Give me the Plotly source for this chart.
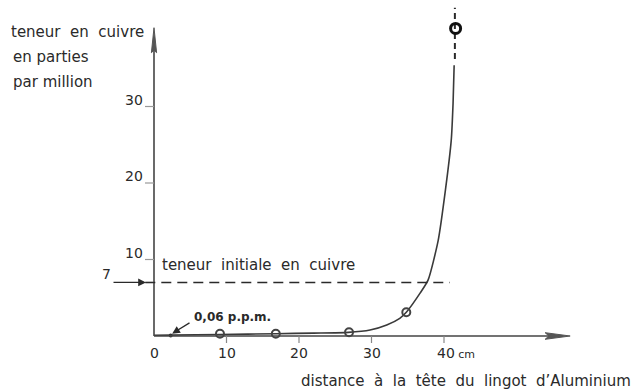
import plotly.graph_objects as go

# ---- data ----
curve_x = [0, 2.3, 9.1, 16.8, 22, 26.8, 29.8, 32.1, 33.9, 34.8, 36.7, 37.8, 39.2, 40.2, 41.0, 41.25, 41.4]
curve_y = [0.1, 0.12, 0.2, 0.3, 0.38, 0.48, 0.78, 1.44, 2.31, 3.1, 5.6, 7.3, 12.5, 19.1, 25.6, 30.4, 35.4]
meas_x = [9.1, 16.8, 26.9, 34.8]
meas_y = [0.3, 0.3, 0.5, 3.1]
top_x = [41.6]
top_y = [40.2]
dot_x = [2.3]
dot_y = [0.06]
initial_level = 7
x_ticks = [10, 20, 30, 40]
x_tick_labels = ["0", "10", "20", "30", "40cm"]
y_ticks = [10, 20, 30]
y_tick_labels = ["10", "20", "30"]
x_axis_end = 57.4
y_axis_end = 40.3
hline_end = 40.8
vdash_x = 41.5
vdash_range = [36.2, 42.9]

# ---- pixel mapping (layout only) ----
W, H = 636, 391
X0PX, SX = 154, 7.25
Y0PX, SY = 336, 7.65
def X(px): return (px - X0PX) / SX
def Y(py): return (Y0PX - py) / SY

INK = "#2a2a2a"
FONT = "DejaVu Sans"
SP = "&nbsp; "  # wide word spacing

def wide(s):
    return s.replace(" ", SP)

fig = go.Figure()

# curve
fig.add_trace(go.Scatter(x=curve_x, y=curve_y, mode="lines",
                         line=dict(color="#3a3a3a", width=1.6, shape="spline", smoothing=0.6),
                         hoverinfo="skip"))
# vertical dashed extension
fig.add_trace(go.Scatter(x=[vdash_x, vdash_x], y=vdash_range, mode="lines",
                         line=dict(color=INK, width=2, dash="6px,4px"), hoverinfo="skip"))
# measured points
fig.add_trace(go.Scatter(x=meas_x, y=meas_y, mode="markers",
                         marker=dict(symbol="circle-open", size=8, color="#444", line=dict(width=2))))
fig.add_trace(go.Scatter(x=top_x, y=top_y, mode="markers",
                         marker=dict(symbol="circle-open", size=10, color="#111", line=dict(width=3))))
fig.add_trace(go.Scatter(x=dot_x, y=dot_y, mode="markers",
                         marker=dict(symbol="circle", size=4, color="#333")))

shapes = []
# axes lines
shapes.append(dict(type="line", x0=0, y0=0, x1=x_axis_end - 2, y1=0, xref="x", yref="y",
                   line=dict(color="#444", width=1.6)))
shapes.append(dict(type="line", x0=0, y0=0, x1=0, y1=y_axis_end - 2, xref="x", yref="y",
                   line=dict(color="#444", width=1.6)))
# arrowheads
ax_len, ax_hw = 25 / SX, 3.3 / SY
shapes.append(dict(type="path", xref="x", yref="y",
                   path=f"M{x_axis_end},0 L{x_axis_end-ax_len},{ax_hw} L{x_axis_end-ax_len*0.85},0 L{x_axis_end-ax_len},{-ax_hw} Z",
                   fillcolor="#555", line=dict(color="#555", width=1)))
ay_len, ay_hw = 25 / SY, 2.6 / SX
shapes.append(dict(type="path", xref="x", yref="y",
                   path=f"M0,{y_axis_end} L{ay_hw},{y_axis_end-ay_len} L0,{y_axis_end-ay_len*0.9} L{-ay_hw},{y_axis_end-ay_len} Z",
                   fillcolor="#555", line=dict(color="#555", width=1)))
# ticks
for t in x_ticks:
    shapes.append(dict(type="line", xref="x", yref="y", x0=t, x1=t, y0=0, y1=-7 / SY,
                       line=dict(color="#888", width=1.2)))
for t in y_ticks + [initial_level]:
    shapes.append(dict(type="line", xref="x", yref="y", x0=-9 / SX, x1=0, y0=t, y1=t,
                       line=dict(color="#999", width=1.2)))
# initial level dashed line
shapes.append(dict(type="line", xref="x", yref="y", x0=-1.2, x1=hline_end, y0=initial_level, y1=initial_level,
                   line=dict(color=INK, width=1.5, dash="10px,6px")))

ann = []
def txt(x, y, s, size=15, xanchor="left", yanchor="middle", bold=False, color=INK, yshift=0):
    ann.append(dict(x=x, y=y, xref="x", yref="y", text=f"<b>{s}</b>" if bold else s,
                    showarrow=False, xanchor=xanchor, yanchor=yanchor, yshift=yshift,
                    font=dict(family=FONT, size=size, color=color)))

# y-axis title
txt(X(9), Y(32), wide("teneur en cuivre"))
txt(X(11), Y(57), "en parties")
txt(X(11), Y(82), "par million")
# y tick labels (raised above tick)
for t, lab in zip(y_ticks, y_tick_labels):
    txt(-9 / SX, t, lab, 14, xanchor="right", yanchor="bottom", yshift=-3)
# x tick labels
for t, lab in zip([0] + x_ticks, x_tick_labels):
    if lab.endswith("cm"):
        ann.append(dict(x=t, y=Y(353), xref="x", yref="y",
                        text="40<span style='font-size:11px'> cm</span>",
                        showarrow=False, xanchor="left", xshift=-9, yanchor="middle",
                        font=dict(family=FONT, size=14, color=INK)))
    else:
        txt(t, Y(353), lab, 14, xanchor="center")
# x-axis title
txt(X(633), Y(381), wide("distance à la tête du lingot d’Aluminium"), xanchor="right")
# initial level label
txt(X(160), Y(265), wide("teneur initiale en cuivre"))
txt(X(100), Y(274), "7", 14)
ann.append(dict(x=X(146), y=initial_level, ax=X(112), ay=initial_level, xref="x", yref="y",
                axref="x", ayref="y", showarrow=True, arrowhead=2, arrowsize=1.3,
                arrowwidth=1.2, arrowcolor=INK, text=""))
# 0,06 ppm label
txt(X(192), Y(317), "0,06 p.p.m.", 12, bold=True)
ann.append(dict(x=dot_x[0] + 0.2, y=dot_y[0] + 0.25, ax=X(191), ay=Y(322), xref="x", yref="y",
                axref="x", ayref="y", showarrow=True, arrowhead=2, arrowsize=1.2,
                arrowwidth=1.3, arrowcolor=INK, text=""))

fig.update_layout(
    width=W, height=H, margin=dict(l=0, r=0, t=0, b=0),
    paper_bgcolor="white", plot_bgcolor="white", showlegend=False,
    xaxis=dict(range=[X(0), X(W)], visible=False, fixedrange=True),
    yaxis=dict(range=[Y(H), Y(0)], visible=False, fixedrange=True),
    shapes=shapes, annotations=ann,
)
fig.write_html("out.html")
